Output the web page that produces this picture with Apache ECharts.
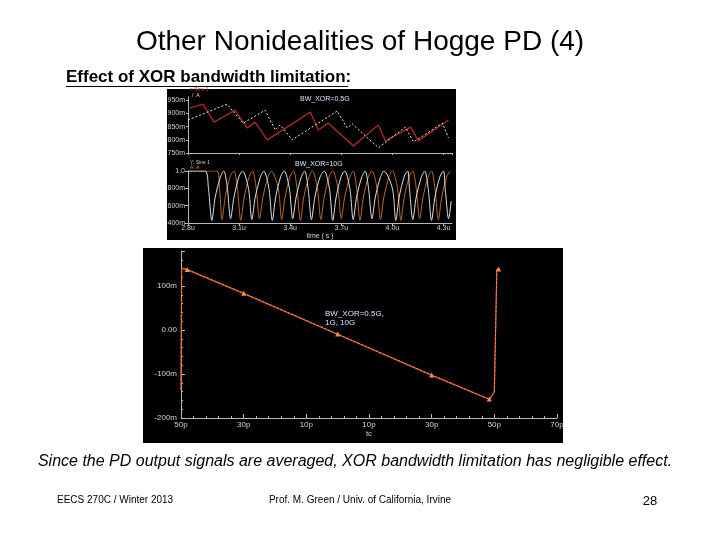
<!DOCTYPE html>
<html><head><meta charset="utf-8">
<script src="https://cdn.jsdelivr.net/npm/echarts@6/dist/echarts.min.js"></script>
<style>html,body{margin:0;padding:0;background:#fff}#c{width:720px;height:540px}</style>
</head><body><div id="c"></div>
<script>
// ---- Top simulator panel: PD output (BW_XOR=0.5G) ----
const topRedT   = [2.81, 2.888, 2.953, 3.076, 3.147, 3.194, 3.265, 3.518, 3.565, 3.624, 3.771, 3.918, 3.959, 4.106, 4.153, 4.329];
const topRedV   = [920, 935, 867, 912, 845, 867, 800, 905, 837, 863, 777, 856, 796, 848, 796, 875];
const topWhiteT = [2.8, 3.029, 3.124, 3.253, 3.312, 3.341, 3.412, 3.676, 3.735, 3.765, 3.918, 4.076, 4.124, 4.294, 4.329];
const topWhiteV = [875, 935, 863, 912, 837, 856, 800, 909, 845, 860, 770, 848, 792, 863, 807];

// ---- Middle simulator panel: XOR output (BW_XOR=10G) ----
const xorWhite = [[2.8,1.0],[2.9,1.0],[2.92,0.8],[2.94,0.43],[2.96,0.7],[2.99,0.93],[3.01,1.0],
 [3.03,0.82],[3.05,0.45],[3.07,0.7],[3.1,0.94],[3.12,1.0],
 [3.155,0.8],[3.175,0.44],[3.195,0.7],[3.225,0.93],[3.245,1.0],
 [3.275,0.8],[3.295,0.43],[3.315,0.7],[3.345,0.94],[3.365,1.0],
 [3.395,0.8],[3.415,0.45],[3.435,0.7],[3.465,0.93],[3.485,1.0],
 [3.505,0.8],[3.525,0.44],[3.545,0.7],[3.575,0.93],[3.6,1.0],
 [3.63,0.8],[3.65,0.43],[3.67,0.7],[3.7,0.94],[3.72,1.0],
 [3.75,0.8],[3.77,0.44],[3.79,0.7],[3.82,0.93],[3.84,1.0],
 [3.86,0.8],[3.88,0.45],[3.9,0.7],[3.93,0.93],[3.95,1.0],
 [4.0,0.8],[4.02,0.43],[4.04,0.7],[4.07,0.94],[4.09,1.0],
 [4.1,0.8],[4.12,0.44],[4.14,0.7],[4.17,0.93],[4.19,1.0],
 [4.21,0.8],[4.23,0.43],[4.25,0.7],[4.28,0.94],[4.3,1.0],
 [4.31,0.8],[4.33,0.45],[4.345,0.65]];
const xorOrange = [[2.8,1.0],[2.97,1.0],[2.985,0.8],[3.0,0.44],[3.02,0.72],[3.05,0.95],[3.07,1.0],
 [3.09,0.8],[3.11,0.43],[3.13,0.7],[3.16,0.94],[3.18,1.0],
 [3.2,0.8],[3.22,0.45],[3.24,0.7],[3.27,0.93],[3.29,1.0],
 [3.33,0.8],[3.35,0.44],[3.37,0.7],[3.4,0.94],[3.42,1.0],
 [3.44,0.8],[3.46,0.43],[3.48,0.7],[3.51,0.93],[3.53,1.0],
 [3.56,0.8],[3.58,0.44],[3.6,0.7],[3.63,0.94],[3.65,1.0],
 [3.68,0.8],[3.7,0.45],[3.72,0.7],[3.75,0.93],[3.77,1.0],
 [3.79,0.8],[3.81,0.43],[3.83,0.7],[3.86,0.94],[3.88,1.0],
 [3.91,0.8],[3.93,0.44],[3.95,0.7],[3.98,0.93],[4.0,1.0],
 [4.03,0.8],[4.05,0.43],[4.07,0.7],[4.1,0.94],[4.12,1.0],
 [4.14,0.8],[4.16,0.45],[4.18,0.7],[4.21,0.93],[4.23,1.0],
 [4.25,0.8],[4.27,0.44],[4.29,0.7],[4.32,0.94],[4.34,1.0]];

// ---- Bottom simulator panel: averaged PD output vs tc ----
const tcPs     = [-50, -49.8, -48, -30, 0, 30, 48.4, 50, 50.8, 51.4];
const avgOut05 = [-135, 141, 138, 84, -9, -102, -157, -141, 139, 139];
const avgOut10 = [-137, 140, 137, 83, -10, -103, -158, -142, 138, 138];
const tcMarkerIdx = [2, 3, 4, 5, 6, 9];

const chart = echarts.init(document.getElementById('c'), null, {renderer: 'canvas'});
const axisCol = '#b8b8b8', lblCol = '#d0d0d0';
const lblFont = {color: lblCol, fontSize: 7, fontFamily: 'Liberation Sans'};

function pairs(t, v) { return t.map((x, i) => [x, v[i]]); }

const bottom05 = tcPs.map((x, i) => tcMarkerIdx.includes(i)
  ? {value: [x, avgOut05[i]], symbol: 'triangle', symbolSize: 5}
  : {value: [x, avgOut05[i]], symbol: 'none'});

chart.setOption({
  backgroundColor: '#ffffff',
  animation: false,
  grid: [
    {left: 188, top: 97, width: 264, height: 56},
    {left: 188, top: 171, width: 264, height: 52},
    {left: 181, top: 251, width: 376, height: 167}
  ],
  xAxis: [
    {gridIndex: 0, type: 'value', min: 2.8, max: 4.35, interval: 0.3,
     axisLine: {onZero: false, lineStyle: {color: axisCol}}, axisTick: {show: true, length: 2, lineStyle: {color: axisCol}},
     minorTick: {show: true, splitNumber: 3, length: 1, lineStyle: {color: axisCol}},
     axisLabel: {show: false}, splitLine: {show: false}},
    {gridIndex: 1, type: 'value', min: 2.8, max: 4.35, interval: 0.3,
     name: 'time ( s )', nameLocation: 'middle', nameGap: 10, nameTextStyle: {color: lblCol, fontSize: 7},
     axisLine: {onZero: false, lineStyle: {color: axisCol}}, axisTick: {show: true, length: 3, lineStyle: {color: axisCol}},
     axisLabel: Object.assign({margin: 2, formatter: v => v.toFixed(1) + 'u', showMaxLabel: false}, lblFont),
     splitLine: {show: false}},
    {gridIndex: 2, type: 'value', min: -50, max: 70, interval: 20,
     name: 'tc', nameLocation: 'middle', nameGap: 12, nameTextStyle: {color: lblCol, fontSize: 8},
     axisLine: {onZero: false, lineStyle: {color: axisCol}}, axisTick: {show: true, inside: true, length: 4, lineStyle: {color: axisCol}},
     minorTick: {show: true, splitNumber: 5, length: 2, lineStyle: {color: axisCol}},
     axisLabel: Object.assign({margin: 3, formatter: v => Math.abs(Math.round(v)) + 'p'}, lblFont, {fontSize: 8}),
     splitLine: {show: false}}
  ],
  yAxis: [
    {gridIndex: 0, type: 'value', min: 750, max: 962, interval: 50,
     axisLine: {show: true, onZero: false, lineStyle: {color: axisCol}}, axisTick: {show: true, length: 2, lineStyle: {color: axisCol}},
     axisLabel: Object.assign({margin: 3, formatter: v => v + 'm', showMaxLabel: false}, lblFont),
     splitLine: {show: false}},
    {gridIndex: 1, type: 'value', min: 0.4, max: 1.0, interval: 0.2,
     axisLine: {show: true, onZero: false, lineStyle: {color: axisCol}}, axisTick: {show: true, length: 3, lineStyle: {color: axisCol}},
     axisLabel: Object.assign({margin: 3, formatter: v => Math.abs(v - 1) < 1e-9 ? '1.0' : Math.round(v * 1000) + 'm'}, lblFont),
     splitLine: {show: false}},
    {gridIndex: 2, type: 'value', min: -200, max: 180, interval: 100,
     axisLine: {show: true, onZero: false, lineStyle: {color: axisCol}}, axisTick: {show: true, inside: true, length: 4, lineStyle: {color: axisCol}},
     minorTick: {show: true, splitNumber: 5, length: 2, lineStyle: {color: axisCol}},
     axisLabel: Object.assign({margin: 4, formatter: v => v === 0 ? '0.00' : v + 'm', showMaxLabel: false}, lblFont, {fontSize: 8}),
     splitLine: {show: false}}
  ],
  series: [
    {name: 'Sine 1', type: 'line', xAxisIndex: 0, yAxisIndex: 0, data: pairs(topRedT, topRedV),
     showSymbol: false, lineStyle: {color: '#a82828', width: 1.4}, z: 3},
    {name: 'A', type: 'line', xAxisIndex: 0, yAxisIndex: 0, data: pairs(topWhiteT, topWhiteV),
     showSymbol: false, lineStyle: {color: '#e8ecd0', width: 1, type: [2, 2]}, z: 4},
    {name: 'A (XOR)', type: 'line', xAxisIndex: 1, yAxisIndex: 1, data: xorOrange, smooth: 0.3,
     showSymbol: false, lineStyle: {color: '#b86a2a', width: 1}, z: 3},
    {name: 'Sine 1 (XOR)', type: 'line', xAxisIndex: 1, yAxisIndex: 1, data: xorWhite, smooth: 0.3,
     showSymbol: false, lineStyle: {color: '#e0e0e0', width: 1}, z: 4},
    {name: 'BW_XOR=10G', type: 'line', xAxisIndex: 2, yAxisIndex: 2, data: pairs(tcPs, avgOut10),
     showSymbol: false, lineStyle: {color: '#d04028', width: 1.2}, z: 3},
    {name: 'BW_XOR=0.5G', type: 'line', xAxisIndex: 2, yAxisIndex: 2, data: bottom05,
     itemStyle: {color: '#f09050'}, lineStyle: {color: '#f09050', width: 1, type: [3, 1]}, z: 4}
  ],
  graphic: [
    {type: 'rect', z: -10, shape: {x: 167, y: 89, width: 289, height: 151}, style: {fill: '#000'}},
    {type: 'rect', z: -10, shape: {x: 143, y: 248, width: 420, height: 195}, style: {fill: '#000'}},
    {type: 'text', z: 100, style: {x: 360, y: 42, text: 'Other Nonidealities of Hogge PD (4)', fill: '#000', font: '28px "Liberation Sans"', align: 'center', verticalAlign: 'middle'}},
    {type: 'text', z: 100, style: {x: 66, y: 77, text: 'Effect of XOR bandwidth limitation:', fill: '#000', font: 'bold 17px "Liberation Sans"', align: 'left', verticalAlign: 'middle'}},
    {type: 'line', z: 100, shape: {x1: 66, y1: 86.5, x2: 348, y2: 86.5}, style: {stroke: '#000', lineWidth: 1}},
    {type: 'text', z: 100, style: {x: 355, y: 462, text: 'Since the PD output signals are averaged, XOR bandwidth limitation has negligible effect.', fill: '#000', font: 'italic 16px "Liberation Sans"', align: 'center', verticalAlign: 'middle'}},
    {type: 'text', z: 100, style: {x: 57, y: 500, text: 'EECS 270C / Winter 2013', fill: '#000', font: '10px "Liberation Sans"', align: 'left', verticalAlign: 'middle'}},
    {type: 'text', z: 100, style: {x: 360, y: 500, text: 'Prof. M. Green / Univ. of California, Irvine', fill: '#000', font: '10px "Liberation Sans"', align: 'center', verticalAlign: 'middle'}},
    {type: 'text', z: 100, style: {x: 650, y: 501, text: '28', fill: '#000', font: '13px "Liberation Sans"', align: 'center', verticalAlign: 'middle'}},
    {type: 'text', z: 100, style: {x: 300, y: 99, text: 'BW_XOR=0.5G', fill: '#dde4ff', font: '7px "Liberation Sans"', align: 'left', verticalAlign: 'middle'}},
    {type: 'text', z: 100, style: {x: 295, y: 164, text: 'BW_XOR=10G', fill: '#dde4ff', font: '7px "Liberation Sans"', align: 'left', verticalAlign: 'middle'}},
    {type: 'text', z: 100, style: {x: 190, y: 90, text: '= Sine 1', fill: '#c03030', font: '5px "Liberation Sans"', align: 'left', verticalAlign: 'middle'}},
    {type: 'text', z: 100, style: {x: 192, y: 96, text: '/  A', fill: '#e0e8b0', font: '5px "Liberation Sans"', align: 'left', verticalAlign: 'middle'}},
    {type: 'text', z: 100, style: {x: 190, y: 163, text: 'Y: Sine 1', fill: '#c8c8c8', font: '5px "Liberation Sans"', align: 'left', verticalAlign: 'middle'}},
    {type: 'text', z: 100, style: {x: 190, y: 168, text: 'A: A', fill: '#d08040', font: '5px "Liberation Sans"', align: 'left', verticalAlign: 'middle'}},
    {type: 'text', z: 100, style: {x: 325, y: 314, text: 'BW_XOR=0.5G,', fill: '#d8e4ff', font: '8px "Liberation Sans"', align: 'left', verticalAlign: 'middle'}},
    {type: 'text', z: 100, style: {x: 325, y: 323, text: '1G, 10G', fill: '#d8e4ff', font: '8px "Liberation Sans"', align: 'left', verticalAlign: 'middle'}}
  ]
});
</script></body></html>
